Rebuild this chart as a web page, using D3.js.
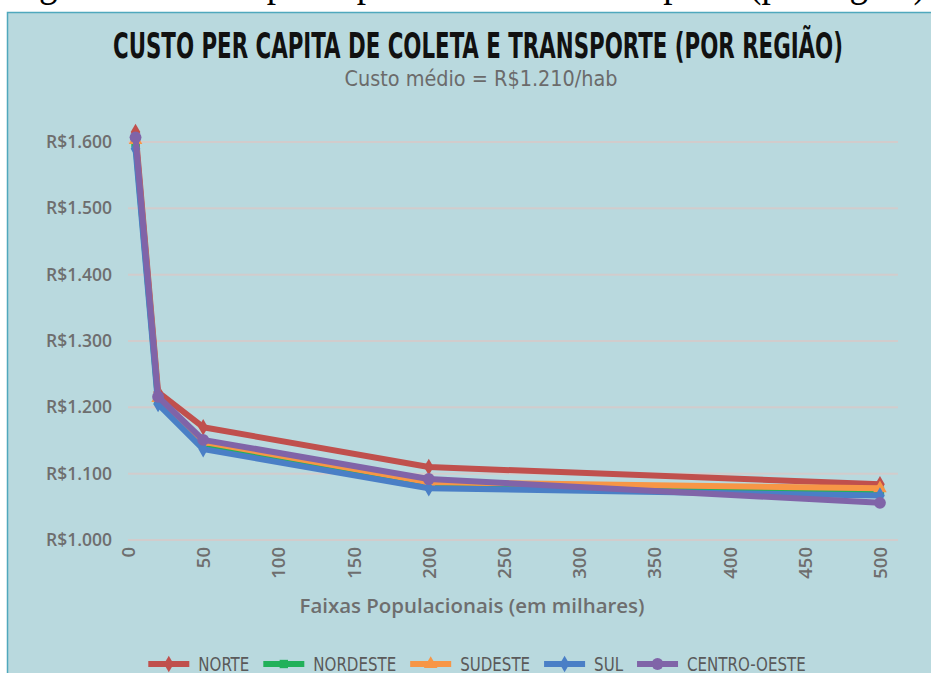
<!DOCTYPE html>
<html>
<head>
<meta charset="utf-8">
<script src="https://cdn.jsdelivr.net/npm/d3@7"></script>
<style>
  html, body { margin: 0; padding: 0; background: #ffffff; }
  svg { display: block; }
</style>
</head>
<body>
<svg id="chart" width="931" height="673"></svg>
<script>
// Population bands (thousands of inhabitants)
const faixas = [5, 20, 50, 200, 500];

// Per capita collection + transport cost by region (R$/inhabitant)
const regioes = ["NORTE", "NORDESTE", "SUDESTE", "SUL", "CENTRO-OESTE"];
const norte       = [1615, 1223, 1170, 1110, 1084];
const nordeste    = [1598, 1210, 1145, 1083, 1074];
const sudeste     = [1603, 1214, 1148, 1087, 1078];
const sul         = [1590, 1205, 1137, 1078, 1067];
const centroOeste = [1607, 1216, 1151, 1092, 1056];

const yTicks = [1000, 1100, 1200, 1300, 1400, 1500, 1600];
const xTicks = [0, 50, 100, 150, 200, 250, 300, 350, 400, 450, 500];

const titulo = "CUSTO PER CAPITA DE COLETA E TRANSPORTE (POR REGIÃO)";
const subtitulo = "Custo médio = R$1.210/hab";
const eixoX = "Faixas Populacionais (em milhares)";
const legenda = "Figura 3 – Custo per capita de coleta e transporte (por região)";

const series = [
  { name: regioes[0], values: norte,       color: "#c0504d", symbol: d3.symbolDiamond },
  { name: regioes[1], values: nordeste,    color: "#22b15a", symbol: d3.symbolSquare },
  { name: regioes[2], values: sudeste,     color: "#f79646", symbol: d3.symbolTriangle },
  { name: regioes[3], values: sul,         color: "#4a7fc6", symbol: d3.symbolDiamond },
  { name: regioes[4], values: centroOeste, color: "#8064a8", symbol: d3.symbolCircle }
];

const svg = d3.select("#chart");
const W = 931, H = 673;

// caption above the chart panel (only its lower part lies inside the page)
svg.append("text")
  .attr("x", 8).attr("y", -4)
  .attr("textLength", 918).attr("lengthAdjust", "spacingAndGlyphs")
  .style("font-family", "'Liberation Serif', 'DejaVu Serif', serif")
  .style("font-size", "44px")
  .style("fill", "#000")
  .text(legenda);

// chart panel
svg.append("rect")
  .attr("x", 7.5).attr("y", 12.5)
  .attr("width", W).attr("height", H)
  .attr("fill", "#b9d9de")
  .attr("stroke", "#4fa8bd").attr("stroke-width", 1.5);

const x = d3.scaleLinear().domain([0, 512]).range([128, 898]);
const y = d3.scaleLinear().domain([1000, 1600]).range([540, 142]);

// title + subtitle
svg.append("text")
  .attr("x", 478).attr("y", 58)
  .attr("text-anchor", "middle")
  .attr("textLength", 730).attr("lengthAdjust", "spacingAndGlyphs")
  .style("font-family", "'Liberation Sans Narrow', 'DejaVu Sans Condensed', sans-serif")
  .style("font-weight", "bold")
  .style("font-size", "35px")
  .style("fill", "#111")
  .text(titulo);

svg.append("text")
  .attr("x", 481).attr("y", 86)
  .attr("text-anchor", "middle")
  .attr("textLength", 273).attr("lengthAdjust", "spacingAndGlyphs")
  .style("font-family", "'Liberation Sans Narrow', 'DejaVu Sans Condensed', sans-serif")
  .style("font-size", "21px")
  .style("fill", "#6b6b6b")
  .text(subtitulo);

// horizontal gridlines
svg.append("g")
  .selectAll("line")
  .data(yTicks)
  .join("line")
  .attr("x1", x(0)).attr("x2", x(512))
  .attr("y1", d => y(d)).attr("y2", d => y(d))
  .attr("stroke", "#d2cccc").attr("stroke-width", 2);

// y axis labels
const fmt = v => "R$" + d3.format(",")(v).replace(",", ".");
const yAxis = d3.axisLeft(y).tickValues(yTicks).tickSize(0).tickPadding(16).tickFormat(fmt);
const gy = svg.append("g").attr("transform", `translate(${x(0)},0)`).call(yAxis);
gy.select(".domain").remove();
gy.selectAll("text")
  .style("font-family", "'Open Sans', sans-serif")
  .style("font-weight", "600")
  .style("font-size", "17.5px")
  .style("fill", "#6e6e6e");

// x axis labels (rotated)
const xAxis = d3.axisBottom(x).tickValues(xTicks).tickSize(0).tickPadding(0);
const gx = svg.append("g").attr("transform", `translate(0,${y(1000)})`).call(xAxis);
gx.select(".domain").remove();
gx.selectAll("text")
  .attr("transform", "rotate(-90)")
  .attr("text-anchor", "end")
  .attr("x", -7).attr("y", 0).attr("dy", "0.35em")
  .style("font-family", "'Open Sans', sans-serif")
  .style("font-weight", "600")
  .style("font-size", "18.5px")
  .style("fill", "#6e6e6e");

svg.append("text")
  .attr("x", 472).attr("y", 613)
  .attr("text-anchor", "middle")
  .attr("textLength", 345).attr("lengthAdjust", "spacingAndGlyphs")
  .style("font-family", "'Open Sans', sans-serif")
  .style("font-weight", "600")
  .style("font-size", "20px")
  .style("fill", "#6e6e6e")
  .text(eixoX);

// series
const line = d3.line().x(d => x(d[0])).y(d => y(d[1]));
const symSize = s => s === d3.symbolCircle ? 110 : (s === d3.symbolSquare ? 70 : 80);

series.forEach(s => {
  const pts = faixas.map((f, i) => [f, s.values[i]]);
  const g = svg.append("g");
  g.append("path")
    .attr("d", line(pts))
    .attr("fill", "none")
    .attr("stroke", s.color)
    .attr("stroke-width", 6)
    .attr("stroke-linejoin", "round")
    .attr("stroke-linecap", "round");
  g.selectAll("path.m")
    .data(pts)
    .join("path")
    .attr("class", "m")
    .attr("transform", d => `translate(${x(d[0])},${y(d[1])})`)
    .attr("d", d3.symbol().type(s.symbol).size(symSize(s.symbol)))
    .attr("fill", s.color);
});

// legend
const leg = svg.append("g");
let cx = 0;
series.forEach(s => {
  const it = leg.append("g").attr("transform", `translate(${cx},0)`);
  it.append("line")
    .attr("x1", 0).attr("x2", 41).attr("y1", 0).attr("y2", 0)
    .attr("stroke", s.color).attr("stroke-width", 6);
  it.append("path")
    .attr("transform", "translate(20.5,0)")
    .attr("d", d3.symbol().type(s.symbol).size(symSize(s.symbol)))
    .attr("fill", s.color);
  const t = it.append("text")
    .attr("x", 50).attr("y", 7)
    .style("font-family", "'Liberation Sans Narrow', 'DejaVu Sans Condensed', sans-serif")
    .style("font-size", "19px")
    .style("fill", "#5a5a5a")
    .text(s.name);
  const w = t.node().getComputedTextLength() * 0.88;
  t.attr("textLength", w).attr("lengthAdjust", "spacingAndGlyphs");
  cx += 50 + w + 14;
});
const legW = cx - 14;
leg.attr("transform", `translate(${477 - legW / 2},664)`);
</script>
</body>
</html>
